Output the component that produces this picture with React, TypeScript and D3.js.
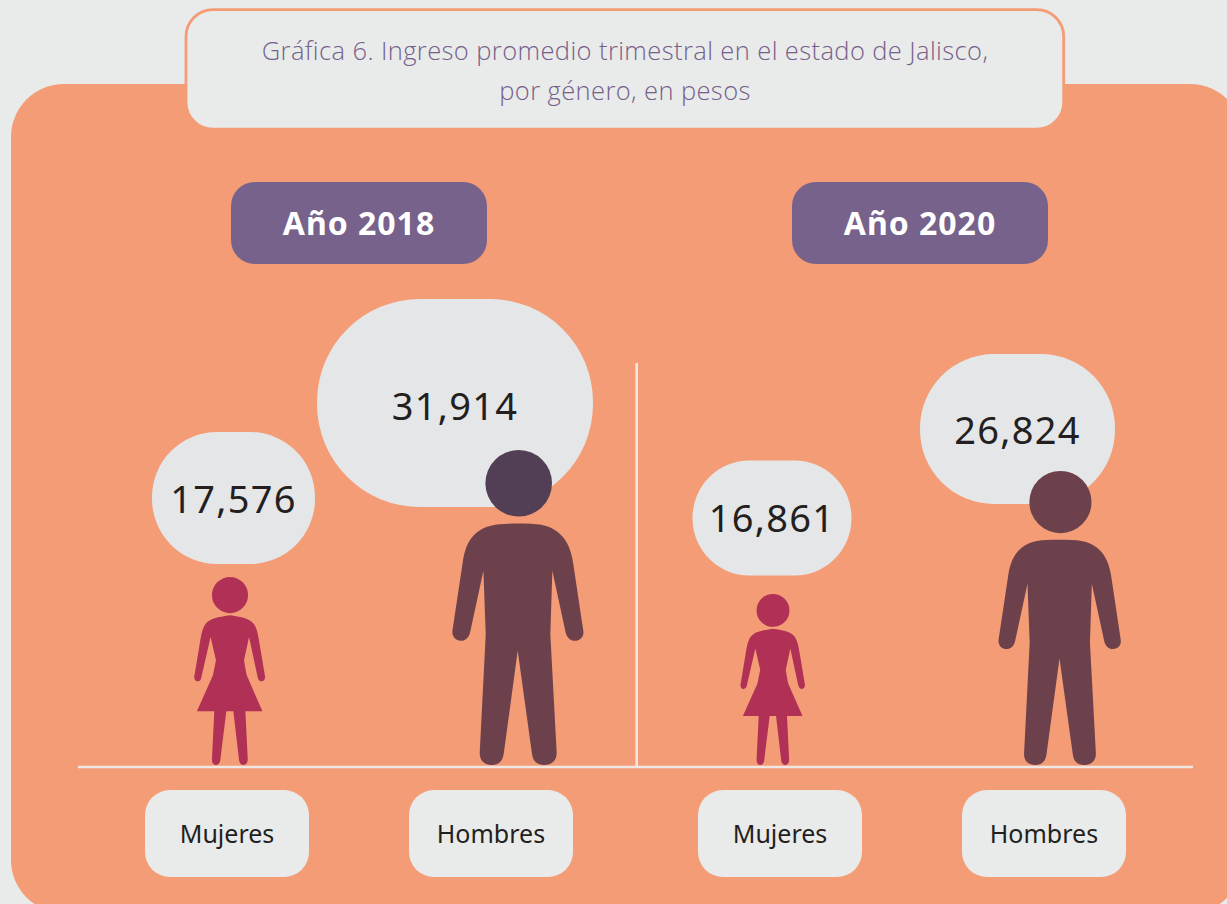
import React from "react";
import * as d3 from "d3";

const title = ["Gráfica 6. Ingreso promedio trimestral en el estado de Jalisco,", "por género, en pesos"];
const years = ["Año 2018", "Año 2020"];
const categories = ["Mujeres", "Hombres", "Mujeres", "Hombres"];
const genders = ["f", "m", "f", "m"];
const values = [17576, 31914, 16861, 26824];
const headColors = ["#b13056", "#533f55", "#b13056", "#6d414c"];

const W = 1227, H = 904, baseline = 765;
const sorted = [16861, 17576, 26824, 31914];
const heightScale = d3.scaleLinear().domain(sorted).range([171, 188, 294, 315]);
const bubbleW = d3.scaleLinear().domain(sorted).range([159, 163, 195, 276]);
const bubbleH = d3.scaleLinear().domain(sorted).range([115, 132, 150, 208]);
const bubbleR = d3.scaleLinear().domain(sorted).range([57, 65, 74, 103]);
const figureX = d3.scaleOrdinal<number, number>().domain([0, 1, 2, 3]).range([230, 517.7, 773, 1059.5]);
const bubbleCx = d3.scaleOrdinal<number, number>().domain([0, 1, 2, 3]).range([233.5, 455, 772, 1017.5]);
const bubbleCy = d3.scaleOrdinal<number, number>().domain([0, 1, 2, 3]).range([498, 403, 518, 429]);
const numberY = d3.scaleOrdinal<number, number>().domain([0, 1, 2, 3]).range([513, 420, 532, 444]);
const labelX = d3.scaleOrdinal<number, number>().domain([0, 1, 2, 3]).range([227, 491, 780, 1044]);
const yearX = d3.scaleOrdinal<number, number>().domain([0, 1]).range([359, 920]);

const manBody = "M293 278C350 278 385 280 415 305C445 330 455 365 460 400L490 600C493 618 480 630 465 630C450 630 441 620 437 605L397 420L391 610L410 965C411 990 395 1003 373 1003C350 1003 338 990 336 970L293 660L251 970C248 990 237 1003 215 1003C193 1003 178 990 179 965L197 610L190 420L150 605C146 620 137 630 122 630C107 630 95 618 97 600L127 400C132 365 140 330 170 305C200 280 235 278 293 278Z";
const womanBody = "M270 585C300 590 325 592 340 610C352 625 355 650 360 680L375 770C375 778 370 783 364 783C358 783 355 778 353 772L327 650L312 720L316 745L320 765L367 872L316 872L323 1015C323 1027 317 1033 310 1033C303 1033 298 1027 297 1018L280 872L259 872L241 1018C240 1027 235 1033 228 1033C220 1033 216 1027 216 1015L223 872L171 872L219 765L223 745L228 720L212 650L184 772C183 778 180 783 173 783C167 783 163 778 163 770L178 680C183 650 186 625 198 610C213 592 240 590 270 585Z";
const glyph = {
  m: { body: manBody, cx: 293, hx: 296, cy: 157, r: 100, top: 57, bottom: 1003, fill: "#6d414c" },
  f: { body: womanBody, cx: 270, hx: 270, cy: 525, r: 54, top: 471, bottom: 1033, fill: "#b13056" },
};

const FONT = "'Noto Sans', sans-serif";

export default function App() {
  return (
    <svg width={W} height={H} viewBox={`0 0 ${W} ${H}`} style={{ position: "absolute", left: 0, top: 0, display: "block" }}>
      <rect width={W} height={H} fill="#e9ebea" />
      <rect x={11} y={84} width={1232} height={829} rx={53} fill="#f39c76" />
      <rect x={186} y={9.7} width={877.7} height={119.5} rx={27} fill="#e9ebea" stroke="#f39c76" strokeWidth={2.8} />
      {title.map((t, i) => (
        <text key={i} x={625} y={60 + i * 40} textAnchor="middle" fontFamily="'Open Sans', sans-serif" fontWeight={300} fontSize={25.5} letterSpacing={0.4} fill="#75608a">{t}</text>
      ))}
      {years.map((y, i) => (
        <g key={i}>
          <rect x={yearX(i) - 128} y={182} width={256} height={82} rx={24} fill="#77628b" />
          <text x={yearX(i)} y={235} textAnchor="middle" fontFamily={FONT} fontWeight={700} fontSize={32} letterSpacing={1} fill="#ffffff">{y}</text>
        </g>
      ))}
      <line x1={78} x2={1193} y1={767} y2={767} stroke="#efe7e3" strokeWidth={2.6} />
      <line x1={636.7} x2={636.7} y1={363} y2={767} stroke="#efe7e3" strokeWidth={2.6} />
      {values.map((v, i) => {
        const w = bubbleW(v), h = bubbleH(v), r = bubbleR(v);
        return (
          <g key={i}>
            <rect x={bubbleCx(i) - w / 2} y={bubbleCy(i) - h / 2} width={w} height={h} rx={r} fill="#e5e6e8" />
            <text x={bubbleCx(i)} y={numberY(i)} textAnchor="middle" fontFamily={FONT} fontSize={38} letterSpacing={1.3} fill="#231f20">{d3.format(",")(v)}</text>
          </g>
        );
      })}
      {values.map((v, i) => {
        const g = glyph[genders[i] as "m" | "f"];
        const s = heightScale(v) / (g.bottom - g.top);
        return (
          <g key={i} transform={`translate(${figureX(i)},${baseline}) scale(${s}) translate(${-g.cx},${-g.bottom})`}>
            <circle cx={g.hx} cy={g.cy} r={g.r} fill={headColors[i]} />
            <path d={g.body} fill={g.fill} />
          </g>
        );
      })}
      {categories.map((c, i) => (
        <g key={i}>
          <rect x={labelX(i) - 82} y={790} width={164} height={87} rx={25} fill="#e9ebea" />
          <text x={labelX(i)} y={843} textAnchor="middle" fontFamily={FONT} fontSize={25} fill="#231f20">{c}</text>
        </g>
      ))}
    </svg>
  );
}
